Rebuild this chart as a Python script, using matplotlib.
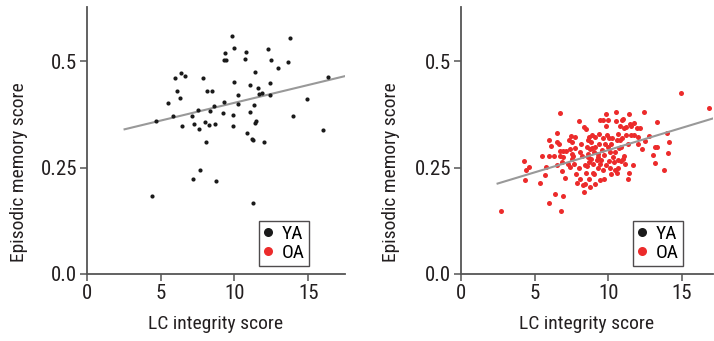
"""Recreate the LC integrity vs episodic memory scatter panels."""

import matplotlib

matplotlib.use("Agg")
import matplotlib.pyplot as plt
from matplotlib import font_manager
from matplotlib.lines import Line2D

# young adults (left panel)
ya_lc = [
    4.41, 4.68, 5.47, 5.81, 5.99, 6.10, 6.28, 6.37, 6.62, 6.46, 7.09, 7.21, 7.25,
    7.50, 7.59, 7.64, 7.88, 8.02, 8.04, 8.13, 8.29, 8.33, 8.45, 8.63, 8.65, 8.72,
    9.21, 9.28, 9.28, 9.37, 9.44, 9.84, 9.93, 9.93, 9.95, 10.00, 10.23, 10.23,
    10.72, 10.77, 10.83, 11.04, 11.06, 11.19, 11.26, 11.28, 11.35, 11.37, 11.37,
    11.49, 11.62, 11.69, 11.87, 11.98, 12.27, 12.41, 12.43, 12.45, 12.93, 13.60,
    13.78, 13.94, 14.91, 15.99, 16.31,
]
ya_mem = [
    0.184, 0.359, 0.402, 0.371, 0.460, 0.429, 0.413, 0.472, 0.465, 0.347, 0.372,
    0.223, 0.353, 0.386, 0.341, 0.244, 0.461, 0.356, 0.309, 0.430, 0.351, 0.384,
    0.431, 0.395, 0.352, 0.218, 0.379, 0.405, 0.502, 0.520, 0.504, 0.559, 0.374,
    0.347, 0.530, 0.452, 0.421, 0.400, 0.505, 0.521, 0.331, 0.380, 0.445, 0.318,
    0.167, 0.316, 0.397, 0.474, 0.355, 0.359, 0.437, 0.423, 0.425, 0.309, 0.528,
    0.420, 0.448, 0.502, 0.485, 0.497, 0.554, 0.372, 0.411, 0.338, 0.462,
]
ya_fit_x = [2.55, 17.5]
ya_fit_y = [0.340, 0.465]

# older adults (right panel)
oa_lc = [
    2.71, 14.94, 16.82, 6.73, 5.98, 6.75, 6.39, 6.91, 5.33, 4.31, 4.27, 4.41, 4.60,
    5.71, 5.76, 5.51, 5.94, 5.96, 6.10, 6.34, 6.48, 6.52, 6.66, 6.70, 6.70, 6.52,
    6.84, 6.82, 6.95, 7.07, 7.14, 7.28, 7.34, 7.40, 7.47, 7.52, 7.56, 7.63, 7.68,
    7.74, 7.76, 7.83, 7.88, 7.97, 7.97, 8.06, 8.17, 8.24, 8.26, 8.31, 8.33, 8.38,
    8.40, 8.46, 8.49, 8.53, 8.58, 8.60, 8.62, 8.67, 8.69, 8.71, 8.74, 8.76, 8.80,
    8.85, 8.89, 8.89, 8.94, 8.98, 9.03, 9.05, 9.07, 9.12, 9.12, 9.21, 9.28, 9.32,
    9.34, 9.37, 9.41, 9.41, 9.46, 9.50, 9.55, 9.62, 9.64, 9.66, 9.68, 9.70, 9.77,
    9.82, 9.84, 9.86, 9.89, 9.95, 10.00, 10.05, 10.07, 10.11, 10.16, 10.20, 10.27,
    10.34, 10.36, 10.43, 10.45, 10.50, 10.52, 10.56, 10.59, 10.63, 10.68, 10.72,
    10.77, 10.81, 10.86, 10.88, 10.93, 10.95, 10.99, 11.02, 11.06, 11.08, 11.11,
    11.17, 11.22, 11.31, 11.33, 11.38, 11.42, 11.47, 11.51, 11.56, 11.65, 11.72,
    11.76, 11.94, 12.01, 12.03, 12.17, 12.26, 12.42, 12.46, 12.76, 13.02, 13.16,
    13.18, 13.27, 13.30, 13.79, 13.95, 14.02, 14.09, 6.93, 7.38, 8.62, 9.30,
    10.09, 10.65, 8.06, 7.50,
]
oa_mem = [
    0.148, 0.425, 0.391, 0.379, 0.166, 0.148, 0.187, 0.184, 0.214, 0.222, 0.265,
    0.244, 0.252, 0.233, 0.252, 0.277, 0.277, 0.314, 0.301, 0.277, 0.311, 0.332,
    0.305, 0.288, 0.277, 0.256, 0.242, 0.262, 0.275, 0.226, 0.288, 0.259, 0.314,
    0.294, 0.325, 0.281, 0.271, 0.277, 0.259, 0.322, 0.296, 0.236, 0.214, 0.360,
    0.248, 0.224, 0.306, 0.277, 0.209, 0.193, 0.345, 0.257, 0.212, 0.340, 0.238,
    0.298, 0.253, 0.283, 0.314, 0.223, 0.262, 0.322, 0.294, 0.205, 0.309, 0.270,
    0.297, 0.327, 0.258, 0.238, 0.287, 0.234, 0.298, 0.212, 0.323, 0.267, 0.248,
    0.283, 0.305, 0.328, 0.361, 0.259, 0.220, 0.269, 0.292, 0.245, 0.361, 0.320,
    0.223, 0.279, 0.305, 0.347, 0.376, 0.255, 0.327, 0.362, 0.298, 0.265, 0.320,
    0.287, 0.236, 0.305, 0.320, 0.275, 0.262, 0.244, 0.287, 0.380, 0.359, 0.314,
    0.238, 0.267, 0.330, 0.295, 0.314, 0.347, 0.265, 0.298, 0.361, 0.320, 0.364,
    0.271, 0.344, 0.277, 0.258, 0.327, 0.345, 0.223, 0.305, 0.238, 0.377, 0.352,
    0.327, 0.348, 0.257, 0.327, 0.354, 0.344, 0.323, 0.305, 0.344, 0.293, 0.380,
    0.312, 0.325, 0.280, 0.298, 0.260, 0.298, 0.358, 0.245, 0.331, 0.284, 0.309,
    0.289, 0.252, 0.275, 0.275, 0.248, 0.248, 0.287, 0.309,
]
oa_fit_x = [2.48, 17.1]
oa_fit_y = [0.2125, 0.3656]

y_ticks = [0.0, 0.25, 0.5]
y_tick_labels = ["0.0", "0.25", "0.5"]
x_ticks = [0, 5, 10, 15]
group_names = ["YA", "OA"]

YA_COLOR = "#1a1a1a"
OA_COLOR = "#ec2b2b"
FIT_COLOR = "#999999"
AXIS_COLOR = "#555555"
TEXT_COLOR = "#231f20"

# narrow sans face if one is installed, otherwise condensed DejaVu / plain fallback
installed = {f.name for f in font_manager.fontManager.ttflist}
narrow = [n for n in ("Liberation Sans Narrow", "Arial Narrow", "Roboto Condensed",
                      "Open Sans Condensed") if n in installed]
plt.rcParams["font.family"] = narrow + ["DejaVu Sans"]
plt.rcParams["font.stretch"] = "condensed"


def style_axes(ax, xmax, legend_right, ylabel_x):
    ax.set_xlim(0, xmax)
    ax.set_ylim(0, 0.627)
    ax.set_xticks(x_ticks)
    ax.set_yticks(y_ticks)
    ax.set_yticklabels(y_tick_labels)
    for side in ("top", "right"):
        ax.spines[side].set_visible(False)
    for side in ("left", "bottom"):
        ax.spines[side].set_color(AXIS_COLOR)
        ax.spines[side].set_linewidth(1.3)
    ax.tick_params(direction="out", length=5, width=1.1, color=AXIS_COLOR,
                   labelsize=15, labelcolor=TEXT_COLOR, pad=2)
    ax.set_xlabel("LC integrity score", fontsize=14, color=TEXT_COLOR, labelpad=9)
    ax.set_ylabel("Episodic memory score", fontsize=14, color=TEXT_COLOR)
    ax.yaxis.set_label_coords(ylabel_x, 0.38)
    handles = [
        Line2D([], [], linestyle="none", marker="o", markersize=6.5,
               markerfacecolor=YA_COLOR, markeredgecolor="none"),
        Line2D([], [], linestyle="none", marker="o", markersize=6.5,
               markerfacecolor=OA_COLOR, markeredgecolor="none"),
    ]
    leg = ax.legend(handles, group_names, loc="lower right",
                    bbox_to_anchor=(legend_right, 0.03), frameon=True, fancybox=False,
                    fontsize=14, handlelength=0.6, handletextpad=0.4, borderpad=0.2,
                    labelspacing=0.05, borderaxespad=0.0)
    leg.get_frame().set_edgecolor(TEXT_COLOR)
    leg.get_frame().set_linewidth(1.0)


fig = plt.figure(figsize=(7.14, 3.41), dpi=100)
ax_ya = fig.add_axes([0.1218, 0.1965, 0.3615, 0.7825])
ax_oa = fig.add_axes([0.6457, 0.1965, 0.3530, 0.7825])

ax_ya.scatter(ya_lc, ya_mem, s=9, color=YA_COLOR, linewidths=0, zorder=3)
ax_ya.plot(ya_fit_x, ya_fit_y, color=FIT_COLOR, linewidth=1.5, zorder=2)
style_axes(ax_ya, 17.5, 0.86, -0.229)

ax_oa.scatter(oa_lc, oa_mem, s=13, color=OA_COLOR, linewidths=0, zorder=3)
ax_oa.plot(oa_fit_x, oa_fit_y, color=FIT_COLOR, linewidth=1.5, zorder=4)
style_axes(ax_oa, 17.1, 0.88, -0.242)

fig.savefig("out.png", dpi=100)
